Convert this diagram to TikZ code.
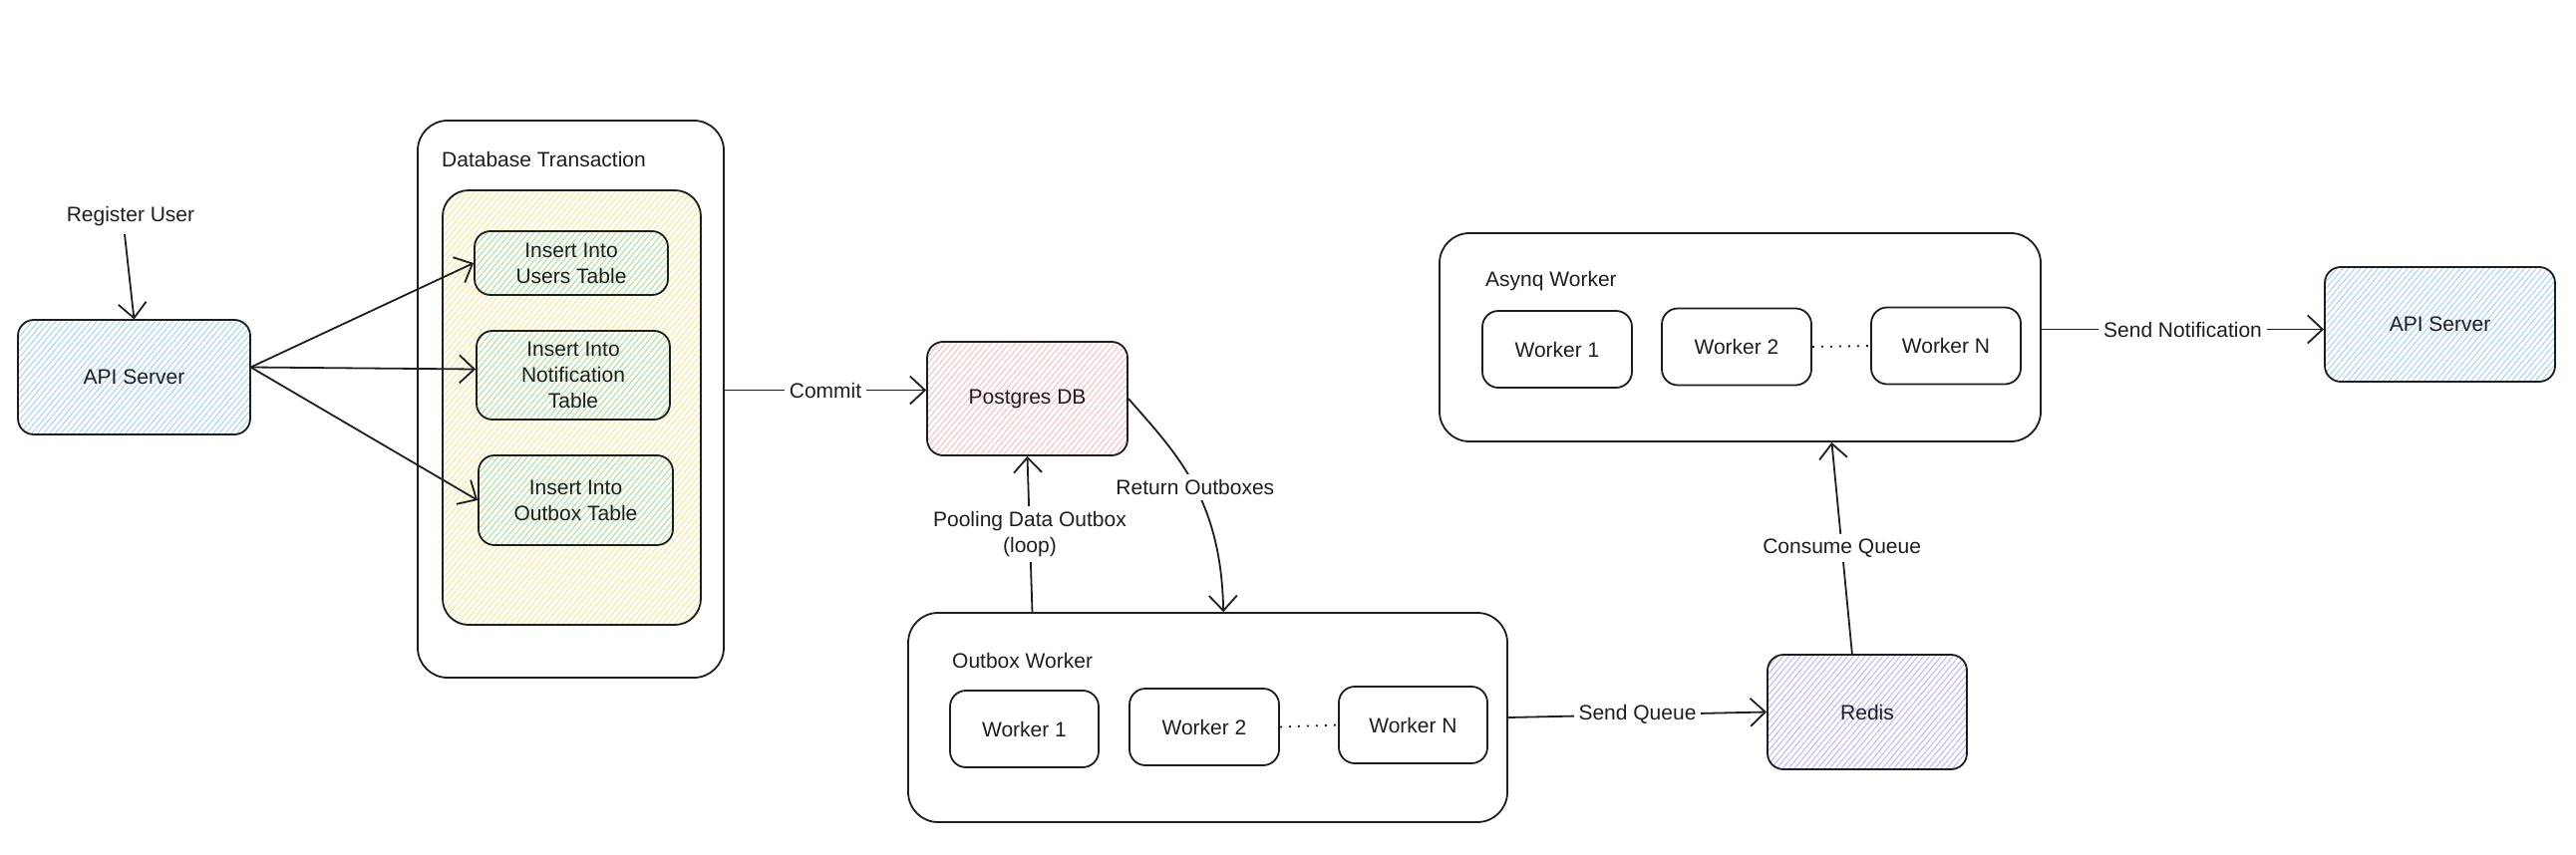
\documentclass[tikz,border=0pt]{standalone}
\usepackage{fontspec}
\setmainfont{Liberation Sans}
\usetikzlibrary{arrows.meta,patterns.meta,calc}
\definecolor{hblue}{HTML}{A5D3FA}
\definecolor{hred}{HTML}{FBBDBD}
\definecolor{hyellow}{HTML}{F9E690}
\definecolor{hgreen}{HTML}{A8E8B2}
\definecolor{hpurple}{HTML}{C2B3FC}
\definecolor{ink}{HTML}{1E1E1E}
\tikzset{
  base/.style={draw=ink, line width=1.8pt, inner sep=0pt, align=center, font=\fontsize{21}{26}\selectfont, text=ink},
  box/.style={base, rounded corners=16pt},
  bigbox/.style={base, rounded corners=30pt},
  hatch/.style={pattern={Lines[angle=50,distance=4.5pt,line width=1pt]}, pattern color=#1},
  title/.style={anchor=west, inner sep=0pt, font=\fontsize{21}{26}\selectfont, text=ink},
  lbl/.style={fill=white, inner sep=5pt, align=center, font=\fontsize{21}{26}\selectfont, text=ink},
  conn/.style={draw=ink, line width=1.8pt, -{Straight Barb[length=15pt,width=28pt,line width=1.8pt]}},
}
\begin{document}
\begin{tikzpicture}[x=1pt,y=-1pt]
\useasboundingbox (0,0) rectangle (2584,858);
\fill[white] (0,0) rectangle (2584,858);

% left API server
\node[box, hatch=hblue, minimum width=233pt, minimum height=115pt] (api) at (134.5,378.5) {API Server};
\node[title, anchor=center] (ru) at (131,217) {Register User};

% Database transaction
\node[bigbox, minimum width=307pt, minimum height=559pt] (dt) at (572.5,400.5) {};
\node[title] (dtt) at (443,160) {Database Transaction};
\node[box, rounded corners=26pt, hatch=hyellow, minimum width=259pt, minimum height=436pt] (yl) at (573.5,409) {};
\node[box, hatch=hgreen, minimum width=194pt, minimum height=64pt] (ut) at (573,264) {Insert Into\\Users Table};
\node[box, hatch=hgreen, minimum width=194pt, minimum height=89pt] (nt) at (575,376.5) {Insert Into\\Notification\\Table};
\node[box, hatch=hgreen, minimum width=195pt, minimum height=90pt] (ot) at (577.5,502) {Insert Into\\Outbox Table};

% Postgres
\node[box, hatch=hred, minimum width=201pt, minimum height=114pt] (pg) at (1030.5,400) {Postgres DB};

% Outbox worker
\node[bigbox, minimum width=601pt, minimum height=210pt] (ow) at (1211.5,720) {};
\node[title] (owt) at (955,663) {Outbox Worker};
\node[box, minimum width=149pt, minimum height=77pt] (ow1) at (1027.5,731.5) {Worker 1};
\node[box, minimum width=150pt, minimum height=77pt] (ow2) at (1208,729.5) {Worker 2};
\node[box, minimum width=149pt, minimum height=77pt] (own) at (1417.5,727.5) {Worker N};

% Redis
\node[box, hatch=hpurple, minimum width=200pt, minimum height=115pt] (rd) at (1873,714.5) {Redis};

% Asynq worker
\node[bigbox, minimum width=603pt, minimum height=209pt] (aw) at (1745.5,338.5) {};
\node[title] (awt) at (1490,282) {Asynq Worker};
\node[box, minimum width=150pt, minimum height=77pt] (aw1) at (1562,350.5) {Worker 1};
\node[box, minimum width=150pt, minimum height=77pt] (aw2) at (1742,348) {Worker 2};
\node[box, minimum width=150pt, minimum height=77pt] (awn) at (1952,347) {Worker N};

% right API server
\node[box, hatch=hblue, minimum width=231pt, minimum height=115pt] (api2) at (2447.5,325.5) {API Server};

% connectors
\coordinate (rus) at ($(ru.south)+(-6,8)$);
\draw[conn] (rus) -- (api.north);
\draw[conn] ([yshift=10pt]api.east) -- (ut.west);
\draw[conn] ([yshift=10pt]api.east) -- ([yshift=6pt]nt.west);
\draw[conn] ([yshift=10pt]api.east) -- (ot.west);

\draw[conn] ([yshift=9pt]dt.east) -- node[lbl] {Commit} ([yshift=9pt]dt.east -| pg.west);

\draw[conn] ($(ow.north west)!0.208!(ow.north east)$) -- node[lbl] {Pooling Data Outbox\\(loop)} (pg.south);

\draw[conn] (pg.east) .. controls (1180,455) and (1225,500) .. node[lbl, pos=0.52] {Return Outboxes} ($(ow.north west)!0.526!(ow.north east)$);

\draw[draw=ink, line width=1.8pt, dash pattern=on 2pt off 7pt] (ow2.east) -- (own.west);
\draw[draw=ink, line width=1.8pt, dash pattern=on 2pt off 7pt] (aw2.east) -- (awn.west);

\draw[conn] (ow.east) -- node[lbl] {Send Queue} (rd.west);

\draw[conn] ($(rd.north west)!0.425!(rd.north east)$) -- node[lbl] {Consume Queue} ($(aw.south west)!0.652!(aw.south east)$);

\draw[conn] ([yshift=8pt]aw.east) -- node[lbl] {Send Notification} ([yshift=8pt]aw.east -| api2.west);
\end{tikzpicture}
\end{document}
